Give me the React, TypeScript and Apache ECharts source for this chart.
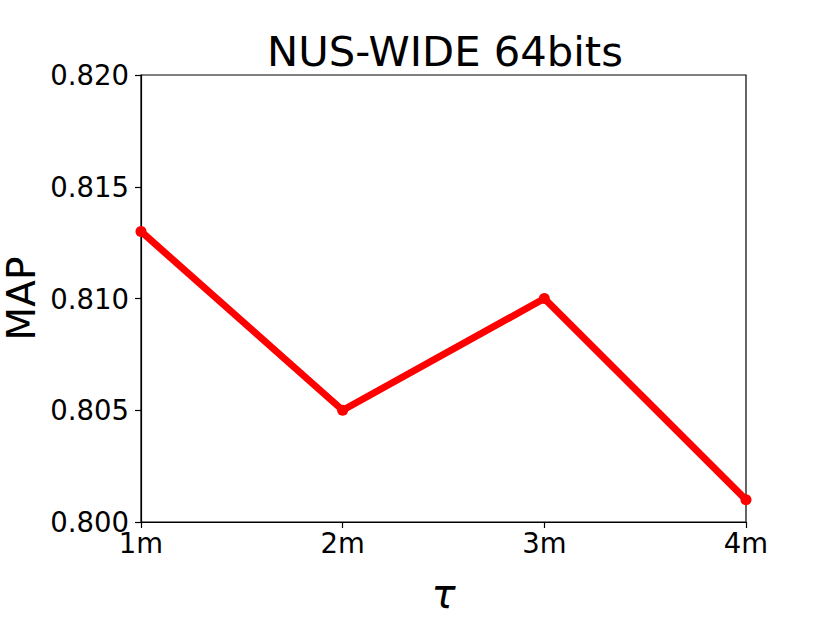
import React, { useEffect, useRef } from "react";
import * as echarts from "echarts";

const categories = ["1m", "2m", "3m", "4m"];
const mapValues = [0.813, 0.805, 0.81, 0.801];
const yTicks = { min: 0.8, max: 0.82, interval: 0.005 };

export default function App() {
  const ref = useRef<HTMLDivElement>(null);
  useEffect(() => {
    document.body.style.margin = "0";
    if (!ref.current) return;
    const chart = echarts.init(ref.current, undefined, { renderer: "svg" });
    const font = "DejaVu Sans";
    chart.setOption({
      animation: false,
      backgroundColor: "#ffffff",
      title: {
        text: "NUS-WIDE 64bits",
        left: 440,
        top: 25,
        textAlign: "center",
        textStyle: { fontFamily: font, fontSize: 41.7, fontWeight: "normal", color: "#000" },
      },
      grid: {
        left: 141,
        right: 84,
        top: 75,
        bottom: 101,
        show: true,
        borderColor: "#000",
        borderWidth: 1.2,
        backgroundColor: "transparent",
        outerBoundsMode: "none",
        containLabel: false,
      },
      xAxis: {
        type: "category",
        data: categories,
        boundaryGap: false,
        name: "τ",
        nameLocation: "middle",
        nameGap: 52,
        nameMoveOverlap: false,
        nameTextStyle: { fontFamily: font, fontSize: 40, fontStyle: "italic", color: "#000" },
        axisLine: { show: true, lineStyle: { color: "#000", width: 1.2 } },
        axisTick: { show: true, alignWithLabel: true, length: 6, lineStyle: { color: "#000", width: 1.2 } },
        axisLabel: { fontFamily: font, fontSize: 27.5, color: "#000", margin: 7 },
        splitLine: { show: false },
      },
      yAxis: {
        type: "value",
        min: yTicks.min,
        max: yTicks.max,
        interval: yTicks.interval,
        name: "MAP",
        nameLocation: "middle",
        nameGap: 100,
        nameRotate: 90,
        nameMoveOverlap: false,
        nameTextStyle: { fontFamily: font, fontSize: 39, color: "#000" },
        axisLine: { show: true, lineStyle: { color: "#000", width: 1.2 } },
        axisTick: { show: true, length: 6, lineStyle: { color: "#000", width: 1.2 } },
        axisLabel: {
          fontFamily: font,
          fontSize: 27.5,
          color: "#000",
          margin: 12,
          formatter: (v: number) => v.toFixed(3),
        },
        splitLine: { show: false },
      },
      series: [
        {
          type: "line",
          data: mapValues,
          clip: true,
          symbol: "circle",
          symbolSize: 11,
          itemStyle: { color: "#ff0000" },
          lineStyle: { color: "#ff0000", width: 7 },
        },
      ],
    });
    return () => chart.dispose();
  }, []);
  return <div ref={ref} style={{ width: 830, height: 623 }} />;
}
